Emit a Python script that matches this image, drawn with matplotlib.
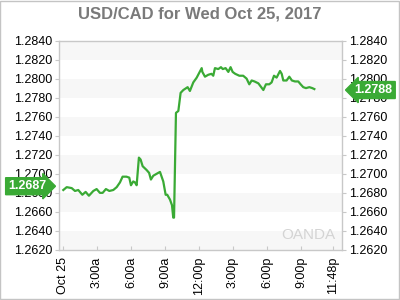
import matplotlib
matplotlib.use("Agg")
import matplotlib.pyplot as plt
from matplotlib.transforms import blended_transform_factory

plt.rcParams['font.family'] = ['Liberation Sans', 'DejaVu Sans']

title = "USD/CAD for Wed Oct 25, 2017"
hours = [0.03, 0.33, 0.77, 1.06, 1.35, 1.71, 2.0, 2.29, 2.68, 2.97, 3.26, 3.5, 3.79, 4.09,
         4.44, 4.74, 5.03, 5.26, 5.6, 5.85, 6.0, 6.2, 6.35, 6.5, 6.7, 6.85, 7.03, 7.38, 7.6,
         7.76, 7.97, 8.26, 8.56, 8.85, 9.06, 9.2, 9.44, 9.62, 9.73, 9.8, 9.97, 10.18, 10.38,
         10.62, 11.0, 11.2, 11.5, 11.8, 12.24, 12.3, 12.53, 12.82, 13.1, 13.26, 13.41, 13.7,
         13.94, 14.1, 14.35, 14.59, 14.79, 14.97, 15.2, 15.56, 15.9, 16.2, 16.44, 16.65,
         16.9, 17.24, 17.68, 17.91, 18.2, 18.41, 18.62, 18.85, 19.15, 19.3, 19.44, 19.73,
         19.97, 20.2, 20.47, 20.76, 20.97, 21.2, 21.44, 21.74, 22.0, 22.18]
rates = [1.2683, 1.2686, 1.2685, 1.2682, 1.2683, 1.2678, 1.2681, 1.2677, 1.2682, 1.2684,
         1.2680, 1.2680, 1.2684, 1.2682, 1.2683, 1.2686, 1.2691, 1.2697, 1.2697, 1.2696,
         1.2688, 1.2692, 1.2691, 1.2688, 1.2717, 1.2715, 1.2708, 1.2704, 1.2701, 1.2694,
         1.2698, 1.2700, 1.2702, 1.2692, 1.2678, 1.2678, 1.2673, 1.2667, 1.2654, 1.2654,
         1.2764, 1.2766, 1.2785, 1.2788, 1.2791, 1.2787, 1.2796, 1.2801, 1.2811, 1.2807,
         1.2802, 1.2804, 1.2805, 1.2803, 1.2811, 1.2810, 1.2812, 1.2810, 1.2811, 1.2807,
         1.2812, 1.2807, 1.2805, 1.2803, 1.2803, 1.2800, 1.2794, 1.2798, 1.2797, 1.2795,
         1.2788, 1.2794, 1.2794, 1.2796, 1.2803, 1.2801, 1.2808, 1.2805, 1.2798, 1.2798,
         1.2802, 1.2798, 1.2797, 1.2797, 1.2794, 1.2791, 1.2790, 1.2791, 1.2790, 1.2789]
xtick_pos = [0, 3, 6, 9, 12, 15, 18, 21, 23.8]
xtick_labels = ["Oct 25", "3:00a", "6:00a", "9:00a", "12:00p", "3:00p", "6:00p", "9:00p", "11:48p"]
yticks = [1.2620, 1.2640, 1.2660, 1.2680, 1.2700, 1.2720, 1.2740, 1.2760, 1.2780,
          1.2800, 1.2820, 1.2840]
open_label = 1.2687
last_label = 1.2788

green = "#3aaa35"
grey_txt = "#7a7a7a"
spine_c = "#c8c8c8"

fig = plt.figure(figsize=(4, 3), dpi=100)
fig.patch.set_facecolor("white")
fig.patches.append(plt.Rectangle((0.001, 0.002), 0.997, 0.996, transform=fig.transFigure,
                                 fill=False, edgecolor="#c4c4c4", linewidth=1.0))
ax = fig.add_axes([59/400, 1-250/300, (342-59)/400, (250-40.5)/300])
ax.set_xlim(-0.35, 24.62)
ax.set_ylim(yticks[0], yticks[-1])

for i in range(0, len(yticks) - 1, 2):
    ax.axhspan(yticks[i], yticks[i + 1], color="#f7f7f7", zorder=0, linewidth=0)

ax.plot(hours, rates, color=green, linewidth=1.6, zorder=3, solid_joinstyle="round")

ax.set_yticks(yticks)
ax.set_yticklabels([f"{v:.4f}" for v in yticks])
ax.set_xticks(xtick_pos)
ax.set_xticklabels(xtick_labels, rotation=90)
ax.tick_params(axis='y', which='both', left=True, right=True, labelleft=True, labelright=True,
               direction='out', length=3, color=spine_c, labelsize=9, labelcolor="black", pad=2)
ax.tick_params(axis='x', direction='in', length=3, color=spine_c, labelsize=9,
               labelcolor="black", pad=5)
for s in ax.spines.values():
    s.set_color(spine_c)
    s.set_linewidth(1.0)

fig.text(0.5, 1 - 14/300, title, ha='center', va='center', fontsize=12,
         fontweight='bold', color=grey_txt)

tr = blended_transform_factory(ax.transAxes, ax.transData)
ax.text(-0.045, open_label, f"{open_label:.4f}", transform=tr, ha='right', va='center',
        fontsize=9, fontweight='bold', color='white', zorder=5, clip_on=False,
        bbox=dict(boxstyle="rarrow,pad=0.2", fc=green, ec=green))
ax.text(1.045, last_label, f"{last_label:.4f}", transform=tr, ha='left', va='center',
        fontsize=9, fontweight='bold', color='white', zorder=5, clip_on=False,
        bbox=dict(boxstyle="larrow,pad=0.2", fc=green, ec=green))

ax.text(0.975, 0.07, "OANDA", transform=ax.transAxes, ha='right', va='center',
        fontsize=11, color="#d4d4d4", zorder=1)

fig.savefig("out.png", dpi=100)
